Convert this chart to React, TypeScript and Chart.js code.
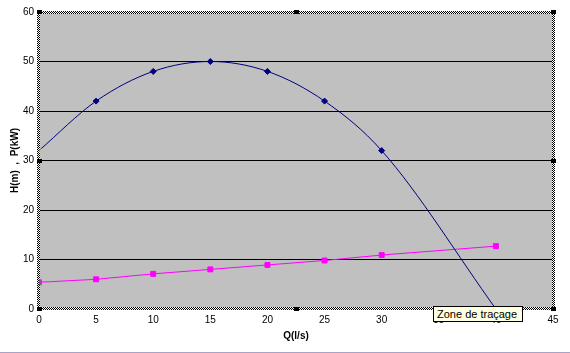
import React, { useEffect, useRef } from "react";
import { Chart, registerables } from "chart.js";

Chart.register(...registerables);

const flowQ = [0, 5, 10, 15, 20, 25, 30, 40];
const headH = [32, 42, 48, 50, 48, 42, 32, 0];
const powerP = [5.4, 6, 7.1, 8, 8.9, 9.8, 10.9, 12.7];
const xTitle = "Q(l/s)";
const yTitle = "H(m)  ,  P(kW)";
const tipText = "Zone de traçage";

function makeChecker(ctx: CanvasRenderingContext2D) {
  const c = document.createElement("canvas");
  c.width = 2;
  c.height = 2;
  const g = c.getContext("2d")!;
  g.fillStyle = "#ffffff";
  g.fillRect(0, 0, 2, 2);
  g.fillStyle = "#000000";
  g.fillRect(0, 0, 1, 1);
  g.fillRect(1, 1, 1, 1);
  return ctx.createPattern(c, "repeat")!;
}

const framePlugin = {
  id: "frame",
  beforeDraw(chart: any) {
    const { ctx, chartArea: a } = chart;
    ctx.save();
    ctx.fillStyle = "#C0C0C0";
    ctx.fillRect(a.left, a.top, a.right - a.left, a.bottom - a.top);
    ctx.restore();
  },
  beforeDatasetsDraw(chart: any) {
    const { ctx, chartArea: a } = chart;
    ctx.save();
    ctx.fillStyle = makeChecker(ctx);
    const l = Math.round(a.left), r = Math.round(a.right), t = Math.round(a.top), b = Math.round(a.bottom);
    ctx.fillRect(l - 2, t - 1, 3, b - t + 3);
    ctx.fillRect(r - 1, t - 1, 3, b - t + 3);
    ctx.fillRect(l - 2, t - 1, r - l + 4, 3);
    ctx.fillRect(l - 2, b - 2, r - l + 4, 3);
    ctx.restore();
  },
  afterDraw(chart: any) {
    const { ctx, chartArea: a } = chart;
    ctx.save();
    ctx.fillStyle = "#000000";
    const mx = Math.round((a.left + a.right) / 2);
    const my = Math.round((a.top + a.bottom) / 2);
    const pts = [
      [a.left, a.top], [mx, a.top], [a.right, a.top],
      [a.left, my], [a.right, my],
      [a.left, a.bottom], [mx, a.bottom], [a.right, a.bottom],
    ];
    for (const [x, y] of pts) {
      ctx.fillRect(Math.round(x) - 2, Math.round(y) - 2, 5, 4);
    }
    ctx.fillStyle = "#a8a4c8";
    ctx.fillRect(0, 352, 570, 1);
    ctx.restore();
  },
};

export default function App() {
  const ref = useRef<HTMLCanvasElement>(null);
  useEffect(() => {
    const chart = new Chart(ref.current!, {
      type: "line",
      data: {
        datasets: [
          {
            label: "H",
            data: flowQ.map((q, i) => ({ x: q, y: headH[i] })),
            borderColor: "#000080",
            backgroundColor: "#000080",
            borderWidth: 1,
            cubicInterpolationMode: "monotone",
            pointStyle: flowQ.map((_, i) => (i === 0 ? "crossRot" : "rectRot")) as any,
            pointRadius: flowQ.map((_, i) => (i === flowQ.length - 1 ? 0 : 3)),
            pointBorderColor: flowQ.map((_, i) => (i === 0 ? "#d8d800" : "#000080")),
            pointBackgroundColor: "#000080",
            pointBorderWidth: 1,
          },
          {
            label: "P",
            data: flowQ.map((q, i) => ({ x: q, y: powerP[i] })),
            borderColor: "#FF00FF",
            backgroundColor: "#FF00FF",
            borderWidth: 1,
            tension: 0,
            pointStyle: flowQ.map((_, i) => (i === 0 ? "rect" : "rect")) as any,
            pointRadius: 3.5,
            pointBorderColor: flowQ.map((_, i) => (i === 0 ? "#00c000" : "#FF00FF")),
            pointBackgroundColor: flowQ.map((_, i) => (i === 0 ? "#FF00FF" : "#FF00FF")),
            pointBorderWidth: 1,
          },
        ],
      },
      options: {
        responsive: false,
        animation: false,
        devicePixelRatio: 1,
        layout: { padding: { top: 12, right: 17, bottom: 0, left: 0 } },
        plugins: { legend: { display: false }, tooltip: { enabled: false } },
        scales: {
          x: {
            type: "linear",
            min: 0,
            max: 45,
            afterFit: (s: any) => { s.height = 44; },
            ticks: { stepSize: 5, color: "#000", font: { family: "Arial", size: 10 }, padding: 5, maxRotation: 0 },
            grid: { display: false, drawTicks: false },
            border: { display: false },
            title: {
              display: true,
              text: xTitle,
              color: "#000",
              font: { family: "Arial", size: 10, weight: "bold" },
              padding: { top: 0, bottom: 11 },
            },
          },
          y: {
            min: 0,
            max: 60,
            afterFit: (s: any) => { s.width = 39; },
            ticks: { stepSize: 10, color: "#000", font: { family: "Arial", size: 10 }, padding: 5 },
            grid: {
              color: (c: any) => (c.tick && (c.tick.value === 0 || c.tick.value === 60) ? "rgba(0,0,0,0)" : "#000"),
              lineWidth: 1,
              drawTicks: false,
            },
            border: { display: false },
            title: {
              display: true,
              text: yTitle,
              color: "#000",
              font: { family: "Arial", size: 10, weight: "bold" },
              padding: { top: 9, bottom: 0 },
            },
          },
        },
      },
      plugins: [framePlugin],
    } as any);
    return () => chart.destroy();
  }, []);

  return (
    <div style={{ position: "fixed", left: 0, top: 0, width: 570, height: 353, background: "#fff" }}>
      <canvas ref={ref} width={570} height={353} style={{ display: "block", width: 570, height: 353 }} />
      <div
        style={{
          position: "absolute",
          left: 433,
          top: 306,
          width: 85,
          height: 14,
          background: "#FFFFE1",
          border: "1px solid #000",
          font: "11px Arial",
          color: "#000",
          lineHeight: "14px",
          paddingLeft: 3,
          boxSizing: "content-box",
          whiteSpace: "nowrap",
          overflow: "hidden",
        }}
      >
        {tipText}
      </div>
    </div>
  );
}
